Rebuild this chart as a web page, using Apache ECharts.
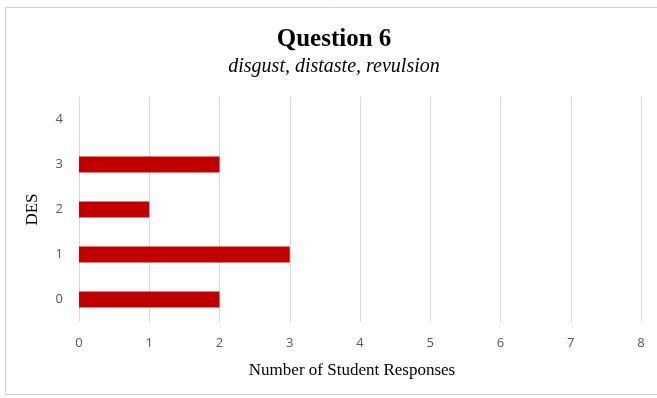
<!DOCTYPE html>
<html>
<head>
<meta charset="utf-8">
<script src="https://cdn.jsdelivr.net/npm/echarts@6/dist/echarts.min.js"></script>
<style>
html, body { margin: 0; padding: 0; background: #fff; }
#chart { width: 657px; height: 398px; }
</style>
</head>
<body>
<div id="chart"></div>
<script>
// 类别与数据
const categories = ['0', '1', '2', '3', '4']
const responses = [2, 3, 1, 2, 0]
const xTicks = [0, 1, 2, 3, 4, 5, 6, 7, 8]

const chart = echarts.init(document.getElementById('chart'))
chart.setOption({
	animation: false,
	backgroundColor: '#fff',
	graphic: [{
		type: 'rect',
		shape: { x: 5.5, y: 7.5, width: 660, height: 387 },
		style: { fill: 'none', stroke: '#d0d0d0', lineWidth: 1 },
		silent: true
	}],
	title: {
		text: 'Question 6',
		subtext: 'disgust, distaste, revulsion',
		left: 329,
		textAlign: 'center',
		top: 22,
		itemGap: 5,
		textStyle: { fontFamily: 'Liberation Serif', fontWeight: 'bold', fontSize: 25, color: '#000' },
		subtextStyle: { fontFamily: 'Liberation Serif', fontStyle: 'italic', fontSize: 20, color: '#000' }
	},
	grid: {
		left: 79,
		right: 16,
		top: 97,
		bottom: 76
	},
	xAxis: {
		type: 'value',
		min: xTicks[0],
		max: xTicks[xTicks.length - 1],
		interval: 1,
		name: 'Number of Student Responses',
		nameLocation: 'middle',
		nameGap: 40,
		nameTextStyle: { fontFamily: 'Liberation Serif', fontSize: 17, color: '#000', padding: [0, 16, 0, 0] },
		axisLine: { show: false },
		axisTick: { show: false },
		axisLabel: { fontFamily: 'Open Sans', fontSize: 13, color: '#595959', margin: 15 },
		splitLine: { lineStyle: { color: '#d9d9d9', width: 1 } }
	},
	yAxis: {
		type: 'category',
		data: categories,
		name: 'DES',
		nameLocation: 'middle',
		nameGap: 38,
		nameRotate: 90,
		nameTextStyle: { fontFamily: 'Liberation Serif', fontSize: 17, color: '#000' },
		axisLine: { show: false },
		axisTick: { show: false },
		axisLabel: { fontFamily: 'Open Sans', fontSize: 13, color: '#595959', margin: 16 },
		splitLine: { show: false }
	},
	series: [{
		type: 'bar',
		data: responses,
		barWidth: 16,
		itemStyle: { color: '#c00000' }
	}]
})
</script>
</body>
</html>
